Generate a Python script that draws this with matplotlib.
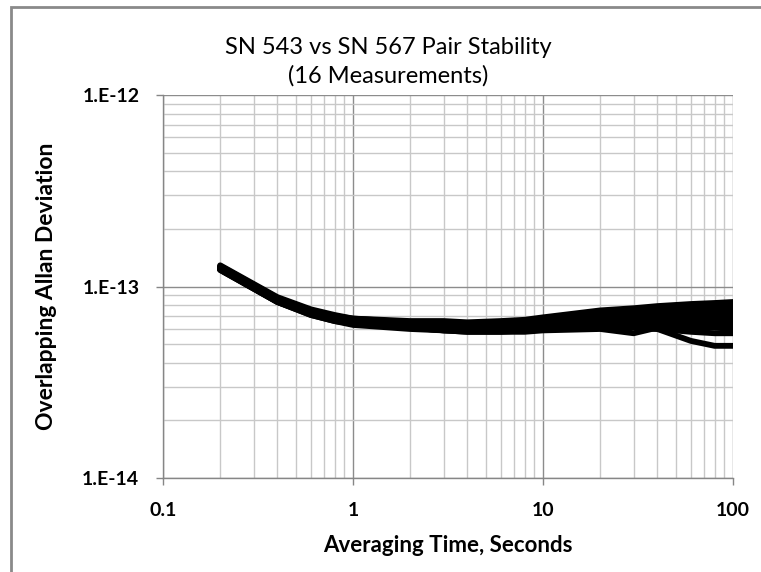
import matplotlib
matplotlib.use("Agg")
import matplotlib.pyplot as plt
from matplotlib.patches import Rectangle
from matplotlib.ticker import FixedLocator, NullFormatter, LogLocator

plt.rcParams['font.family'] = ['Lato', 'DejaVu Sans']

# averaging time (s)
taus = [0.2, 0.4, 0.6, 0.8, 1, 2, 3, 4, 6, 8, 10, 20, 30, 40, 60, 80, 100]

# overlapping Allan deviation, units of 1e-14, one list per measurement
adev_e14 = [
    [12.9, 8.8, 7.6, 7.1, 6.8, 6.6, 6.6, 6.5, 6.6, 6.7, 6.9, 7.5, 7.7, 7.9, 8.1, 8.2, 8.3],
    [12.8, 8.7, 7.5, 7.0, 6.8, 6.5, 6.4, 6.4, 6.4, 6.5, 6.7, 7.3, 7.5, 7.7, 7.9, 8.0, 8.1],
    [12.7, 8.7, 7.5, 7.0, 6.7, 6.4, 6.3, 6.3, 6.3, 6.4, 6.6, 7.1, 7.4, 7.6, 7.8, 7.9, 8.0],
    [12.6, 8.6, 7.4, 6.9, 6.7, 6.4, 6.3, 6.2, 6.2, 6.3, 6.5, 7.0, 7.2, 7.4, 7.6, 7.7, 7.8],
    [12.6, 8.6, 7.4, 6.9, 6.6, 6.3, 6.2, 6.2, 6.2, 6.2, 6.4, 6.9, 7.1, 7.3, 7.5, 7.5, 7.6],
    [12.5, 8.5, 7.4, 6.9, 6.6, 6.3, 6.2, 6.1, 6.1, 6.2, 6.3, 6.7, 7.0, 7.1, 7.3, 7.3, 7.4],
    [12.5, 8.5, 7.3, 6.8, 6.6, 6.3, 6.1, 6.1, 6.1, 6.1, 6.2, 6.6, 6.8, 7.0, 7.1, 7.2, 7.2],
    [12.4, 8.5, 7.3, 6.8, 6.5, 6.2, 6.1, 6.0, 6.0, 6.1, 6.2, 6.5, 6.7, 6.8, 7.0, 7.0, 7.0],
    [12.4, 8.4, 7.3, 6.8, 6.5, 6.2, 6.0, 6.0, 6.0, 6.0, 6.1, 6.4, 6.6, 6.7, 6.8, 6.8, 6.8],
    [12.3, 8.4, 7.2, 6.7, 6.5, 6.2, 6.0, 5.9, 5.9, 6.0, 6.1, 6.3, 6.5, 6.6, 6.6, 6.6, 6.6],
    [12.3, 8.4, 7.2, 6.7, 6.4, 6.1, 6.0, 5.9, 5.9, 5.9, 6.0, 6.2, 6.4, 6.5, 6.4, 6.4, 6.4],
    [12.3, 8.3, 7.2, 6.7, 6.4, 6.1, 5.9, 5.9, 5.9, 5.9, 6.0, 6.2, 6.3, 6.3, 6.3, 6.2, 6.2],
    [12.2, 8.3, 7.1, 6.6, 6.4, 6.1, 5.9, 5.8, 5.8, 5.9, 6.0, 6.1, 6.2, 6.2, 6.1, 6.1, 6.0],
    [12.2, 8.3, 7.1, 6.6, 6.3, 6.0, 5.9, 5.8, 5.8, 5.8, 5.9, 6.0, 5.7, 6.1, 6.3, 6.5, 6.6],
    [12.4, 8.4, 7.2, 6.7, 6.4, 6.1, 6.0, 5.9, 5.9, 5.9, 6.0, 6.1, 6.1, 6.0, 5.8, 5.7, 5.7],
    [12.5, 8.5, 7.3, 6.8, 6.5, 6.2, 6.0, 6.0, 5.9, 6.0, 6.0, 6.2, 6.2, 6.0, 5.2, 4.9, 4.9],
]

x_ticks = [0.1, 1, 10, 100]
x_labels = ['0.1', '1', '10', '100']
y_ticks = [1e-14, 1e-13, 1e-12]
y_labels = ['1.E-14', '1.E-13', '1.E-12']

fig = plt.figure(figsize=(7.61, 5.72), dpi=100)
ax = fig.add_axes([163 / 761, 94 / 572, 570 / 761, 383 / 572])

for s in adev_e14:
    ax.plot(taus, [v * 1e-14 for v in s], color='black', lw=4.2,
            solid_joinstyle='round', solid_capstyle='round', zorder=3)

ax.set_xscale('log')
ax.set_yscale('log')
ax.set_xlim(0.1, 100)
ax.set_ylim(1e-14, 1e-12)

ax.xaxis.set_major_locator(FixedLocator(x_ticks))
ax.set_xticklabels(x_labels)
ax.yaxis.set_major_locator(FixedLocator(y_ticks))
ax.set_yticklabels(y_labels)
ax.xaxis.set_minor_locator(LogLocator(base=10, subs=range(2, 10)))
ax.yaxis.set_minor_locator(LogLocator(base=10, subs=range(2, 10)))
ax.xaxis.set_minor_formatter(NullFormatter())
ax.yaxis.set_minor_formatter(NullFormatter())

ax.grid(which='major', color='#8c8c8c', lw=1.0, zorder=1)
ax.grid(which='minor', color='#c8c8c8', lw=1.0, zorder=0)
ax.set_axisbelow(True)

for side in ['top', 'right']:
    ax.spines[side].set_visible(False)
for side in ['left', 'bottom']:
    ax.spines[side].set_color('#868686')
    ax.spines[side].set_linewidth(1.0)

ax.tick_params(which='major', direction='out', length=5, width=1, color='#868686',
               labelsize=14, pad=12)
ax.tick_params(which='minor', length=0)
for lab in ax.get_xticklabels() + ax.get_yticklabels():
    lab.set_fontweight('bold')

ax.set_xlabel('Averaging Time, Seconds', fontsize=16, fontweight='bold', labelpad=12)
ax.set_ylabel('Overlapping Allan Deviation', fontsize=16.5, fontweight='bold', labelpad=18)

fig.text(388 / 761, 1 - 47 / 572, 'SN 543 vs SN 567 Pair Stability',
         ha='center', va='center', fontsize=17)
fig.text(388 / 761, 1 - 76 / 572, '(16 Measurements)',
         ha='center', va='center', fontsize=17)

# chart area frame (cut off at right and bottom)
fig.patches.append(Rectangle((11 / 761, -0.1), 1.2, 1.1 - 7 / 572, fill=False,
                             edgecolor='#8a8a8a', lw=2, transform=fig.transFigure))

fig.savefig('out.png', dpi=100)
